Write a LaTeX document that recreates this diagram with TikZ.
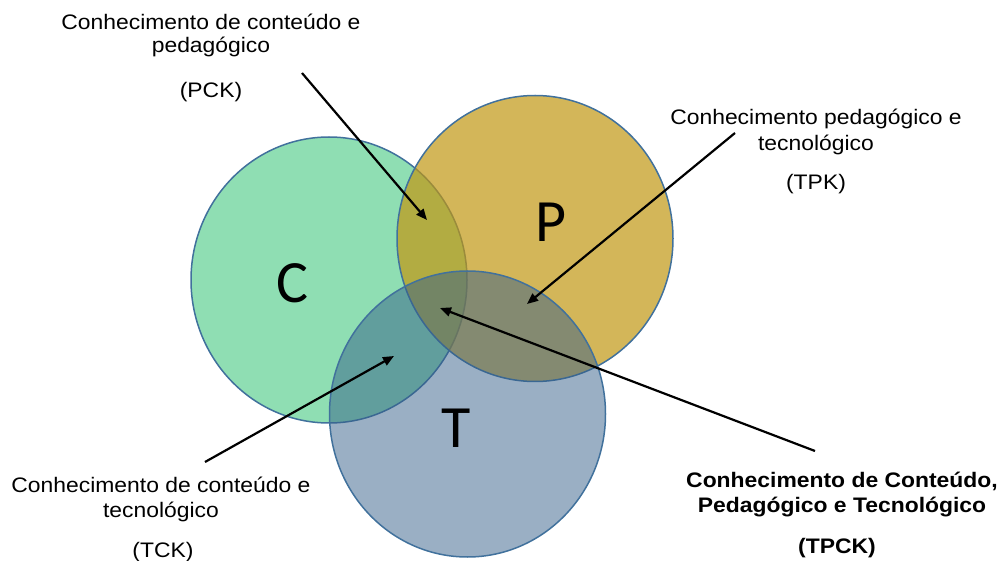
\documentclass[tikz,border=0pt]{standalone}
\usepackage{fontspec}
\setmainfont[FakeStretch=1.09]{Liberation Sans}
\newfontfamily\letterfont{Carlito}
\usetikzlibrary{arrows.meta}

\definecolor{cfill}{RGB}{143,222,179}
\definecolor{pfill}{RGB}{193,151,19}
\definecolor{tfill}{RGB}{53,95,137}
\definecolor{rim}{RGB}{65,113,156}

\begin{document}
\begin{tikzpicture}[x=1pt,y=-1pt,
  rimline/.style={draw=rim, line width=1.5pt},
  lbl/.style={anchor=base, inner sep=0pt, font=\fontsize{21}{24}\selectfont},
  blbl/.style={anchor=base, inner sep=0pt, font=\fontsize{21}{24}\selectfont\bfseries},
  letter/.style={anchor=base, inner sep=0pt, font=\letterfont\fontsize{60}{60}\selectfont},
  pointer/.style={-{Triangle[length=11pt,width=9pt]}, line width=2.2pt}]
\useasboundingbox (0,0) rectangle (1005,561);

% the three knowledge domains
\path[rimline, fill=cfill] (329,280) ellipse [x radius=138pt, y radius=143pt];
\path[rimline, fill=pfill, fill opacity=0.7] (535,238.5) ellipse [x radius=138pt, y radius=143pt];
\path[rimline, fill=tfill, fill opacity=0.5] (467.5,414) ellipse [x radius=138pt, y radius=143pt];

\node[letter] (C) at (292,303) {C};
\node[letter] (P) at (551,242) {P};
\node[letter] (T) at (456,448) {T};

% PCK
\node[lbl] (pck1) at (211,30) {Conhecimento de conteúdo e};
\node[lbl] (pck2) at (211,53) {pedagógico};
\node[lbl] (pck3) at (211,98) {(PCK)};

% TPK
\node[lbl] (tpk1) at (816,125) {Conhecimento pedagógico e};
\node[lbl] (tpk2) at (816,151) {tecnológico};
\node[lbl] (tpk3) at (816,190) {(TPK)};

% TCK
\node[lbl] (tck1) at (161,493) {Conhecimento de conteúdo e};
\node[lbl] (tck2) at (161,518) {tecnológico};
\node[lbl] (tck3) at (163,557) {(TCK)};

% TPCK
\node[blbl] (tpck1) at (842,488) {Conhecimento de Conteúdo,};
\node[blbl] (tpck2) at (842,512) {Pedagógico e Tecnológico};
\node[blbl] (tpck3) at (837,553) {(TPCK)};

% pointers into the overlaps
\coordinate (pck-from) at (302,73);
\coordinate (pck-to) at (427,220);
\coordinate (tpk-from) at (735,133);
\coordinate (tpk-to) at (527,304);
\coordinate (tpck-from) at (815,451);
\coordinate (tpck-to) at (440,308);
\coordinate (tck-from) at (205,462);
\coordinate (tck-to) at (394,356);

\draw[pointer] (pck-from) -- (pck-to);
\draw[pointer] (tpk-from) -- (tpk-to);
\draw[pointer] (tpck-from) -- (tpck-to);
\draw[pointer] (tck-from) -- (tck-to);
\end{tikzpicture}
\end{document}
